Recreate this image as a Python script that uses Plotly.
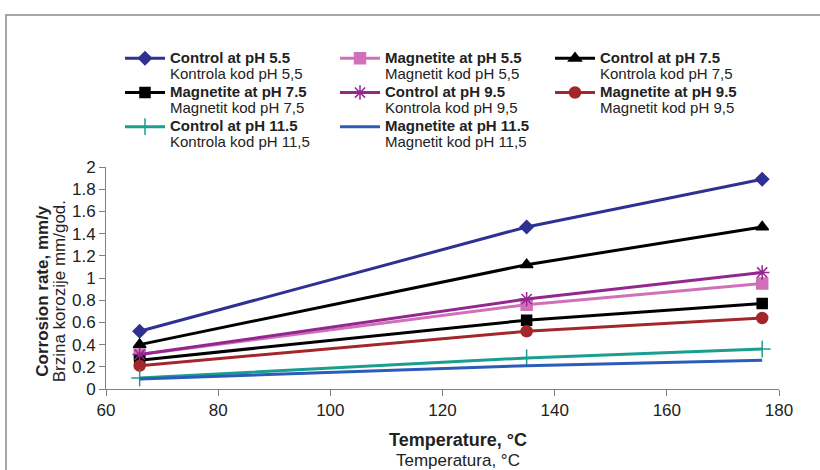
import plotly.graph_objects as go

temperature = [66, 135, 177]

names_en = ["Control at pH 5.5", "Magnetite at pH 5.5", "Control at pH 7.5",
            "Magnetite at pH 7.5", "Control at pH 9.5", "Magnetite at pH 9.5",
            "Control at pH 11.5", "Magnetite at pH 11.5"]
names_sr = ["Kontrola kod pH 5,5", "Magnetit kod pH 5,5", "Kontrola kod pH 7,5",
            "Magnetit kod pH 7,5", "Kontrola kod pH 9,5", "Magnetit kod pH 9,5",
            "Kontrola kod pH 11,5", "Magnetit kod pH 11,5"]

x_title = ["Temperature, °C", "Temperatura, °C"]
y_title = ["Corrosion rate, mm/y", "Brzina korozije mm/god."]

control_55 = [0.52, 1.46, 1.89]
magnetite_55 = [0.31, 0.76, 0.95]
control_75 = [0.40, 1.12, 1.46]
magnetite_75 = [0.26, 0.62, 0.77]
control_95 = [0.31, 0.81, 1.05]
magnetite_95 = [0.21, 0.52, 0.64]
control_115 = [0.10, 0.28, 0.36]
magnetite_115 = [0.09, 0.21, 0.26]

series = [control_55, magnetite_55, control_75, magnetite_75,
          control_95, magnetite_95, control_115, magnetite_115]
colors = ["#2E3192", "#D070B8", "#000000", "#000000",
          "#93278F", "#A3262A", "#1A9E8F", "#2B5CB8"]
symbols = ["diamond", "square", "triangle-up", "square",
           "asterisk-open", "circle", "cross-thin-open", None]
sizes = [10, 11, 11, 10, 12, 11, 12, 0]

LEG = "font-size:15px"
TT = "font-size:17px"
TB = "font-size:18px"

fig = go.Figure()
for vals, en, sr, c, s, sz in zip(series, names_en, names_sr, colors, symbols, sizes):
    if s is None:
        mode = "lines"
        marker = dict()
    else:
        mode = "lines+markers"
        marker = dict(symbol=s, size=sz, color=c, line=dict(color=c, width=1.5))
    fig.add_trace(go.Scatter(
        x=temperature, y=vals, mode=mode,
        name=f"<span style='{LEG}'><b>{en}</b></span><br><span style='{LEG}'>{sr}</span>",
        line=dict(color=c, width=3),
        marker=marker,
    ))

fig.update_layout(
    width=820, height=470,
    margin=dict(l=106, r=41, t=167, b=81),
    paper_bgcolor="white", plot_bgcolor="white",
    font=dict(family="Liberation Sans, Arial, sans-serif", size=17, color="#222222"),
    showlegend=True,
    legend=dict(
        orientation="h", x=0.0208, y=1.554, xanchor="left", yanchor="top",
        font=dict(size=12, color="#222222"),
        entrywidth=160, valign="top",
        itemwidth=40,
    ),
    xaxis=dict(
        range=[60, 180], dtick=20, tick0=60,
        showline=True, linecolor="#808080", linewidth=1,
        ticks="outside", ticklen=6, tickcolor="#808080",
        showgrid=False, zeroline=False, automargin=False,
        tickfont=dict(size=17),
    ),
    yaxis=dict(
        range=[0, 2], dtick=0.2, tick0=0,
        showline=True, linecolor="#808080", linewidth=1,
        ticks="outside", ticklen=6, tickcolor="#808080",
        showgrid=False, zeroline=False, automargin=False,
        tickfont=dict(size=17),
    ),
)

# axis titles (two lines each: English bold, Serbian regular)
fig.add_annotation(
    xref="paper", yref="paper", x=0.523, y=-0.277,
    xanchor="center", yanchor="middle", showarrow=False, align="center",
    text=f"<span style='{TB}'><b>{x_title[0]}</b></span><br><span style='{TT}'>{x_title[1]}</span>",
    font=dict(size=15, color="#222222"),
)
fig.add_annotation(
    xref="paper", yref="paper", x=-0.0817, y=0.44,
    xanchor="center", yanchor="middle", showarrow=False, align="center",
    textangle=-90,
    text=f"<span style='{TT}'><b>{y_title[0]}</b></span><br><span style='{TT}'>{y_title[1]}</span>",
    font=dict(size=13, color="#222222"),
)

fig.add_shape(type="rect", xref="paper", yref="paper",
              x0=-0.1486, y0=-2, x1=2, y1=1.685,
              line=dict(color="#8a8a8a", width=1.5), fillcolor="rgba(0,0,0,0)", layer="below")

fig.write_html("out.html", config={"displayModeBar": False},
               post_script="document.body.style.margin='0';")
